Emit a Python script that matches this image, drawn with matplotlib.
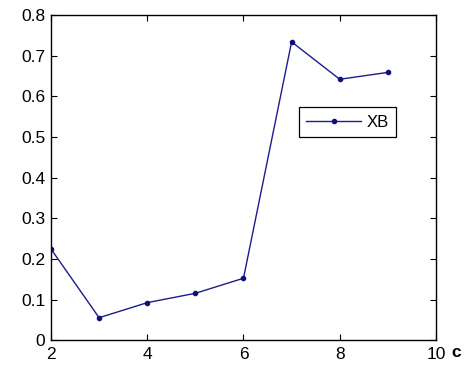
import matplotlib
matplotlib.use("Agg")
import matplotlib.pyplot as plt

c_values = [2, 3, 4, 5, 6, 7, 8, 9]
xb_values = [0.225, 0.056, 0.093, 0.116, 0.153, 0.734, 0.642, 0.659]
x_ticks = [2, 4, 6, 8, 10]
y_ticks = [0, 0.1, 0.2, 0.3, 0.4, 0.5, 0.6, 0.7, 0.8]
y_tick_labels = ["0", "0.1", "0.2", "0.3", "0.4", "0.5", "0.6", "0.7", "0.8"]

plt.rcParams['font.family'] = ['Liberation Sans', 'DejaVu Sans']

fig = plt.figure(figsize=(4.69, 3.66), dpi=100)
ax = fig.add_axes([0.1087, 0.0697, 0.8209, 0.8893])

ax.plot(c_values, xb_values, color='#1c1c8c', linewidth=1.0, marker='.',
        markersize=6, markerfacecolor='#10107a', markeredgecolor='#10107a', label='XB')

ax.set_xlim(2, 10)
ax.set_ylim(0, 0.8)
ax.set_xticks(x_ticks)
ax.set_xticklabels([str(t) for t in x_ticks])
ax.set_yticks(y_ticks)
ax.set_yticklabels(y_tick_labels)

ax.tick_params(direction='in', top=True, right=True, length=4, width=0.8,
               labelsize=12.5, colors='black')
ax.tick_params(axis='x', pad=5)
ax.tick_params(axis='y', pad=4)
for s in ax.spines.values():
    s.set_linewidth(1.0)

ax.text(1.052, -0.038, 'c', transform=ax.transAxes, fontsize=12.5,
        fontweight='bold', ha='center', va='center')

leg = ax.legend(loc='upper left', bbox_to_anchor=(0.644, 0.717), fontsize=12,
                frameon=True, fancybox=False, edgecolor='black', framealpha=1,
                handlelength=3.3, borderpad=0.45, handletextpad=0.3,
                borderaxespad=0)
leg.get_frame().set_linewidth(0.9)

fig.savefig('out.png', dpi=100)
